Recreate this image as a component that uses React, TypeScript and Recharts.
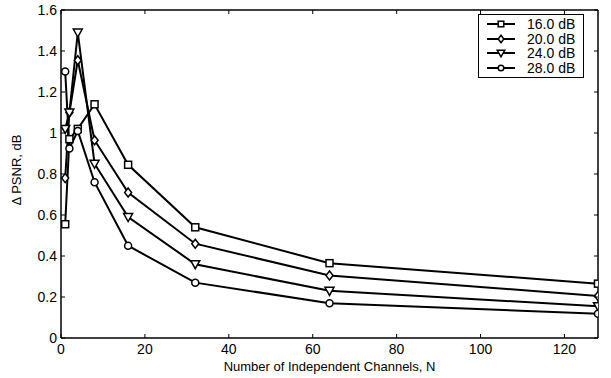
import React from 'react'
import { LineChart, Line, XAxis, YAxis, Legend } from 'recharts'

const channels = [1, 2, 4, 8, 16, 32, 64, 128]
const snr16 = [0.555, 0.97, 1.02, 1.14, 0.845, 0.54, 0.365, 0.265]
const snr20 = [0.78, 1.1, 1.355, 0.965, 0.71, 0.46, 0.305, 0.205]
const snr24 = [1.02, 1.1, 1.49, 0.85, 0.59, 0.36, 0.23, 0.155]
const snr28 = [1.3, 0.925, 1.01, 0.76, 0.45, 0.27, 0.17, 0.118]
const xTicks = [0, 20, 40, 60, 80, 100, 120]
const yTicks = [0, 0.2, 0.4, 0.6, 0.8, 1, 1.2, 1.4, 1.6]
const seriesNames = ['16.0 dB', '20.0 dB', '24.0 dB', '28.0 dB']

const rows = channels.map((n, i) => ({
    n,
    s16: snr16[i],
    s20: snr20[i],
    s24: snr24[i],
    s28: snr28[i],
}))

const FONT = '"Liberation Sans", Arial, Helvetica, sans-serif'

type Shape = 'square' | 'diamond' | 'triangle' | 'circle'

const marker = (shape: Shape, cx: number, cy: number, r: number, key?: string | number) => {
    const common = { fill: '#fff', stroke: '#000', strokeWidth: 1.5 }
    if (shape === 'square') return <rect key={key} x={cx - r} y={cy - r} width={r * 2} height={r * 2} {...common} />
    if (shape === 'diamond')
        return <polygon key={key} points={`${cx},${cy - r - 1} ${cx + r},${cy} ${cx},${cy + r + 1} ${cx - r},${cy}`} {...common} />
    if (shape === 'triangle')
        return <polygon key={key} points={`${cx - r - 1},${cy - r} ${cx + r + 1},${cy - r} ${cx},${cy + r + 1}`} {...common} />
    return <circle key={key} cx={cx} cy={cy} r={r} {...common} />
}

const dot = (shape: Shape) => (props: any) => {
    const { cx, cy, index } = props
    if (cx == null || cy == null) return <g key={index} />
    return marker(shape, cx, cy, 3.5, index)
}

const XTick = (props: any) => {
    const { x, y, payload } = props
    return (
        <g>
            <line x1={x} x2={x} y1={y} y2={y - 4} stroke="#000" strokeWidth={1} />
            <text x={x} y={y + 16} textAnchor="middle" fontSize={14} fontFamily={FONT} fill="#000">
                {payload.value}
            </text>
        </g>
    )
}

const YTick = (props: any) => {
    const { x, y, payload } = props
    return (
        <g>
            <line x1={x} x2={x + 4} y1={y} y2={y} stroke="#000" strokeWidth={1} />
            <text x={x - 4} y={y} dy="0.36em" textAnchor="end" fontSize={14} fontFamily={FONT} fill="#000">
                {payload.value}
            </text>
        </g>
    )
}

const TopTick = (props: any) => {
    const { x, y } = props
    return <line x1={x} x2={x} y1={y} y2={y + 4} stroke="#000" strokeWidth={1} />
}

const RightTick = (props: any) => {
    const { x, y } = props
    return <line x1={x} x2={x - 4} y1={y} y2={y} stroke="#000" strokeWidth={1} />
}

const shapes: Shape[] = ['square', 'diamond', 'triangle', 'circle']

const LegendBox = () => (
    <div
        style={{
            border: '1px solid #000',
            background: '#fff',
            padding: '2px 8px 2px 6px',
            fontFamily: FONT,
            fontSize: 14,
            lineHeight: '14.5px',
        }}
    >
        {seriesNames.map((name, i) => (
            <div key={name} style={{ display: 'flex', alignItems: 'center' }}>
                <svg width={36} height={14} style={{ marginRight: 6 }}>
                    <line x1={2} x2={30} y1={7} y2={7} stroke="#000" strokeWidth={2} />
                    {marker(shapes[i], 16, 7, 2.8)}
                </svg>
                <span>{name}</span>
            </div>
        ))}
    </div>
)

const App: React.FC = () => {
    return (
        <div style={{ position: 'absolute', left: 0, top: 0, background: '#fff' }}>
            <LineChart width={611} height={378} data={rows} margin={{ top: 9, right: 12, bottom: 0, left: 0 }}>
                <XAxis
                    dataKey="n"
                    type="number"
                    domain={[0, 128]}
                    ticks={xTicks}
                    allowDataOverflow
                    height={40}
                    tickSize={0}
                    tickMargin={0}
                    tick={XTick}
                    tickLine={false}
                    stroke="#000"
                    strokeWidth={1.5}
                    label={{
                        content: ({ viewBox }: any) => (
                            <text
                                x={viewBox.x + viewBox.width / 2}
                                y={viewBox.y + 33}
                                textAnchor="middle"
                                fontSize={13}
                                fontFamily={FONT}
                                fill="#000"
                            >
                                Number of Independent Channels, N
                            </text>
                        ),
                    }}
                />
                <XAxis
                    xAxisId="top"
                    orientation="top"
                    dataKey="n"
                    type="number"
                    domain={[0, 128]}
                    ticks={xTicks}
                    allowDataOverflow
                    height={1}
                    tickSize={0}
                    tickMargin={0}
                    tick={TopTick}
                    tickLine={false}
                    stroke="#000"
                    strokeWidth={1.5}
                />
                <YAxis
                    type="number"
                    domain={[0, 1.6]}
                    ticks={yTicks}
                    allowDataOverflow
                    width={61}
                    tickSize={0}
                    tickMargin={0}
                    tick={YTick}
                    tickLine={false}
                    stroke="#000"
                    strokeWidth={1.5}
                    label={{
                        content: ({ viewBox }: any) => {
                            const cx = viewBox.x + 21
                            const cy = viewBox.y + viewBox.height / 2 - 4
                            return (
                                <text
                                    x={cx}
                                    y={cy}
                                    transform={`rotate(-90 ${cx} ${cy})`}
                                    textAnchor="middle"
                                    fontSize={13}
                                    fontFamily={FONT}
                                    fill="#000"
                                >
                                    Δ PSNR, dB
                                </text>
                            )
                        },
                    }}
                />
                <YAxis
                    yAxisId="right"
                    orientation="right"
                    type="number"
                    domain={[0, 1.6]}
                    ticks={yTicks}
                    allowDataOverflow
                    width={1}
                    tickSize={0}
                    tickMargin={0}
                    tick={RightTick}
                    tickLine={false}
                    stroke="#000"
                    strokeWidth={1.5}
                />
                <Legend
                    layout="horizontal"
                    align="center"
                    verticalAlign="middle"
                    content={() => <LegendBox />}
                    wrapperStyle={{ left: 478, top: 14, width: 'auto', height: 'auto' }}
                />
                <Line type="linear" dataKey="s16" name={seriesNames[0]} stroke="#000" strokeWidth={2} dot={dot('square')} activeDot={false} isAnimationActive={false} />
                <Line type="linear" dataKey="s20" name={seriesNames[1]} stroke="#000" strokeWidth={2} dot={dot('diamond')} activeDot={false} isAnimationActive={false} />
                <Line type="linear" dataKey="s24" name={seriesNames[2]} stroke="#000" strokeWidth={2} dot={dot('triangle')} activeDot={false} isAnimationActive={false} />
                <Line type="linear" dataKey="s28" name={seriesNames[3]} stroke="#000" strokeWidth={2} dot={dot('circle')} activeDot={false} isAnimationActive={false} />
            </LineChart>
        </div>
    )
}

export default App
